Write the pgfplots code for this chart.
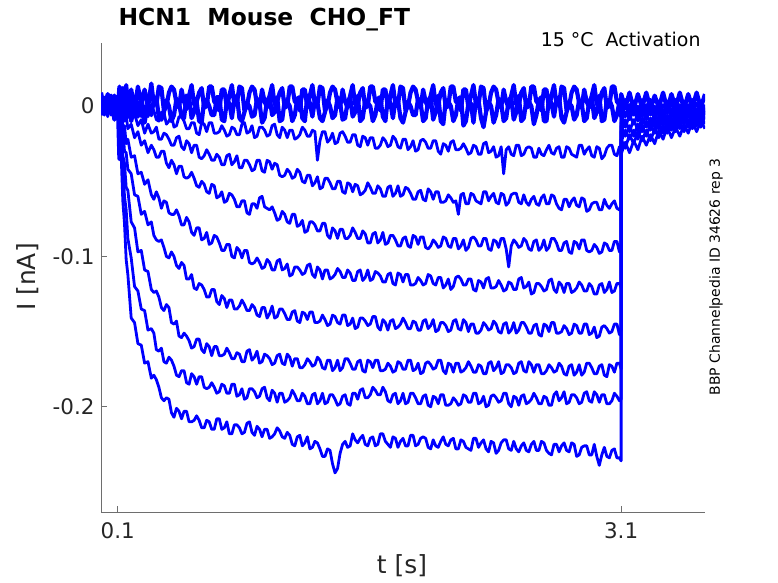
\documentclass[border=0pt]{standalone}
\usepackage{pgfplots}
\pgfplotsset{compat=1.18}
\usepackage{pgfplotstable}
\usepackage{fontspec}
\setmainfont{DejaVu Sans}
% currents in pA (axis labelled in nA)
\pgfplotstableread{
t a b c d e f g h z1 z2
0.00 3 -4 2 -6 5 -2 4 -3 9 -6
0.02 -5 4 -3 6 -4 3 -6 5 -2 4
0.04 4 -2 6 -3 2 -5 3 -7 8 -5
0.06 -3 6 -5 2 -6 4 -2 4 -1 7
0.08 5 -5 3 -4 4 -3 6 -2 7 -9
0.10 -2 3 -4 5 -3 6 -4 3 -3 4
0.11 3 -4 1 -5 1 -6 -2 -10 13 -35
0.12 -4 2 -5 -2 -13 -13 -23 -32 -1 7
0.13 5 -5 -1 -13 -15 -33 -38 -63 12 -9
0.14 -3 1 -10 -13 -30 -38 -60 -78 0 6
0.15 4 -6 -6 -25 -31 -54 -69 -102 14 -8
0.16 -2 -2 -15 -22 -42 -56 -88 -112 1 5
0.18 3 -10 -12 -34 -45 -77 -101 -141 11 -10
0.20 -5 -5 -21 -33 -59 -81 -120 -144 -2 4
0.22 2 -13 -17 -45 -60 -97 -123 -158 13 -7
0.24 -7 -9 -26 -44 -72 -96 -135 -159 2 7
0.26 0 -18 -23 -52 -70 -109 -136 -171 11 -11
0.28 -7 -12 -31 -49 -79 -110 -149 -170 -1 3
0.300 -1 -18 -26 -59 -77 -122 -148 -181 15 -6
0.315 -3 -17 -29 -62 -86 -124 -151 -179 1 4
0.330 -9 -14 -34 -57 -89 -123 -162 -182 1 6
0.345 -10 -22 -34 -61 -90 -127 -163 -187 13 -8
0.360 -4 -22 -30 -68 -89 -134 -161 -194 12 -9
0.375 -4 -18 -30 -63 -94 -136 -170 -196 -3 -4
0.390 -12 -19 -38 -64 -100 -132 -171 -194 0 4
0.405 -10 -22 -41 -71 -101 -134 -167 -195 9 0
0.420 -6 -26 -36 -72 -97 -144 -169 -204 13 -10
0.435 -14 -26 -39 -72 -100 -145 -173 -207 11 -6
0.450 -13 -21 -45 -69 -106 -143 -179 -201 2 5
0.465 -7 -20 -40 -73 -108 -153 -180 -203 -1 2
0.480 -7 -27 -40 -79 -104 -154 -176 -208 11 -7
0.495 -10 -29 -47 -79 -106 -151 -176 -203 3 -8
0.510 -15 -23 -48 -74 -115 -153 -184 -203 -2 7
0.525 -15 -25 -47 -77 -115 -156 -185 -210 7 6
0.540 -11 -31 -44 -84 -112 -161 -178 -210 14 -8
0.555 -11 -26 -48 -86 -121 -160 -180 -209 1 -4
0.570 -18 -26 -53 -81 -122 -155 -185 -206 3 3
0.585 -19 -34 -54 -81 -118 -155 -180 -209 9 -10
0.600 -11 -35 -50 -89 -119 -162 -180 -214 12 -11
0.615 -12 -33 -52 -88 -122 -164 -187 -214 -1 4
0.630 -17 -29 -57 -84 -127 -158 -188 -209 0 4
0.645 -11 -32 -58 -92 -127 -160 -187 -210 13 0
0.660 -11 -36 -52 -91 -122 -166 -184 -215 13 -6
0.675 -18 -36 -53 -86 -122 -160 -187 -215 3 -6
0.690 -18 -32 -61 -87 -130 -160 -191 -208 1 6
0.705 -17 -34 -60 -91 -132 -166 -190 -208 -3 6
0.720 -13 -39 -57 -96 -126 -166 -185 -215 11 -9
0.735 -16 -39 -64 -96 -128 -165 -186 -214 11 -10
0.750 -20 -33 -63 -92 -134 -161 -191 -210 -1 3
0.765 -19 -32 -58 -92 -129 -164 -191 -218 7 2
0.780 -14 -39 -59 -100 -129 -168 -185 -218 14 -8
0.795 -15 -37 -62 -101 -135 -168 -185 -212 1 4
0.810 -19 -33 -67 -94 -135 -164 -193 -212 2 7
0.825 -19 -41 -67 -96 -133 -165 -192 -214 13 -8
0.840 -12 -41 -63 -101 -129 -170 -188 -218 12 -10
0.855 -11 -36 -63 -96 -132 -170 -195 -217 -3 -4
0.870 -18 -36 -71 -96 -136 -163 -194 -211 0 2
0.885 -17 -39 -72 -104 -136 -162 -188 -210 9 0
0.900 -13 -43 -65 -105 -132 -169 -188 -217 13 -7
0.915 -21 -42 -65 -104 -134 -167 -190 -219 11 -6
0.930 -20 -36 -68 -101 -139 -163 -194 -213 1 5
0.945 -14 -36 -61 -104 -140 -171 -193 -215 -1 2
0.960 -14 -43 -60 -108 -134 -170 -188 -220 11 -11
0.975 -16 -44 -67 -107 -134 -165 -187 -215 3 -8
0.990 -20 -36 -68 -102 -141 -166 -194 -215 -1 4
1.005 -19 -37 -69 -104 -138 -168 -196 -221 7 6
1.020 -13 -42 -67 -109 -133 -172 -189 -220 14 -6
1.035 -12 -38 -71 -109 -141 -171 -191 -218 1 -4
1.050 -19 -39 -76 -103 -140 -166 -197 -214 3 6
1.065 -21 -46 -75 -102 -135 -165 -191 -216 9 -10
1.080 -14 -47 -70 -109 -135 -171 -191 -220 12 -9
1.095 -16 -46 -72 -108 -138 -172 -197 -221 -1 4
1.110 -21 -42 -77 -105 -142 -165 -196 -217 0 3
1.125 -16 -44 -78 -113 -142 -167 -194 -219 13 0
1.140 -16 -48 -72 -112 -137 -173 -189 -225 13 -10
1.155 -22 -47 -72 -107 -136 -168 -192 -226 3 -6
1.170 -21 -42 -80 -107 -143 -168 -196 -220 2 5
1.185 -19 -44 -79 -109 -144 -174 -196 -219 -3 6
1.200 -14 -50 -76 -112 -137 -174 -191 -226 11 -8
1.215 -16 -51 -84 -111 -138 -172 -193 -224 11 -10
1.230 -20 -46 -83 -106 -142 -168 -198 -220 -1 7
1.245 -20 -46 -77 -105 -137 -170 -198 -228 7 2
1.260 -16 -53 -77 -112 -137 -173 -192 -227 14 -7
1.275 -17 -51 -79 -114 -144 -172 -191 -223 1 4
1.290 -36 -47 -83 -107 -144 -167 -198 -224 1 2
1.305 -23 -55 -83 -109 -143 -169 -196 -228 13 -8
1.320 -17 -54 -78 -115 -139 -174 -191 -233 12 -10
1.335 -17 -48 -78 -109 -142 -175 -198 -233 -3 -4
1.350 -24 -48 -86 -109 -146 -169 -197 -228 0 4
1.365 -22 -51 -88 -115 -145 -169 -192 -229 9 0
1.380 -18 -55 -81 -114 -139 -176 -192 -238 13 -8
1.395 -25 -55 -83 -112 -140 -174 -195 -244 11 -6
1.410 -24 -50 -88 -108 -144 -169 -199 -241 2 6
1.425 -18 -50 -82 -110 -145 -176 -198 -231 -1 2
1.440 -17 -57 -82 -114 -139 -174 -193 -225 11 -9
1.455 -20 -58 -88 -114 -139 -168 -192 -223 3 -8
1.470 -24 -51 -88 -109 -146 -168 -198 -227 -1 3
1.485 -24 -52 -86 -111 -145 -171 -199 -226 7 6
1.500 -19 -57 -81 -116 -141 -175 -191 -218 14 -7
1.515 -19 -52 -84 -116 -148 -175 -191 -222 1 -4
1.530 -26 -53 -88 -110 -147 -170 -195 -224 1 7
1.545 -27 -59 -88 -109 -141 -169 -189 -221 9 -10
1.560 -20 -58 -83 -116 -141 -176 -188 -219 12 -8
1.575 -21 -56 -85 -114 -143 -177 -194 -225 -1 4
1.590 -26 -51 -91 -109 -146 -169 -194 -226 0 2
1.605 -21 -54 -91 -116 -145 -170 -192 -221 13 0
1.620 -21 -58 -85 -115 -140 -174 -187 -220 13 -10
1.635 -28 -58 -84 -110 -140 -169 -189 -226 3 -6
1.650 -28 -53 -91 -111 -147 -169 -192 -225 2 5
1.665 -26 -55 -89 -113 -149 -176 -192 -218 -3 6
1.680 -21 -60 -84 -117 -142 -176 -187 -218 11 -7
1.695 -23 -60 -92 -117 -144 -175 -190 -223 11 -10
1.710 -27 -54 -91 -112 -149 -171 -196 -225 -1 6
1.725 -26 -53 -86 -111 -143 -173 -197 -227 7 2
1.740 -20 -60 -86 -118 -142 -177 -192 -220 14 -8
1.755 -22 -58 -89 -119 -148 -176 -191 -221 1 4
1.770 -27 -53 -93 -111 -147 -170 -198 -227 1 4
1.785 -28 -60 -93 -112 -145 -171 -196 -223 13 -8
1.800 -22 -59 -88 -117 -141 -175 -191 -221 12 -11
1.815 -22 -54 -87 -112 -144 -175 -198 -226 -3 -4
1.830 -29 -55 -93 -112 -148 -169 -197 -226 0 3
1.845 -27 -58 -94 -119 -148 -169 -191 -219 9 0
1.860 -23 -62 -86 -119 -143 -176 -191 -219 13 -6
1.875 -30 -62 -87 -118 -144 -175 -194 -226 11 -6
1.890 -29 -57 -92 -114 -149 -171 -198 -225 3 5
1.905 -23 -56 -87 -116 -149 -178 -198 -221 -1 2
1.920 -22 -62 -87 -119 -143 -177 -193 -220 11 -10
1.935 -24 -63 -94 -118 -142 -171 -192 -221 3 -8
1.950 -28 -55 -95 -112 -148 -170 -199 -227 -1 4
1.965 -28 -57 -93 -113 -146 -172 -200 -228 7 6
1.980 -23 -62 -89 -118 -142 -175 -193 -222 14 -9
1.995 -23 -57 -91 -119 -150 -174 -194 -226 1 -4
2.010 -30 -57 -94 -114 -149 -169 -198 -227 1 7
2.025 -32 -64 -93 -114 -144 -169 -192 -223 9 -10
2.040 -25 -64 -87 -121 -144 -176 -192 -220 12 -12
2.055 -26 -63 -88 -119 -146 -178 -199 -225 -1 4
2.070 -30 -59 -93 -115 -150 -171 -199 -226 0 3
2.085 -24 -61 -94 -122 -149 -172 -198 -222 13 0
2.100 -23 -64 -88 -120 -143 -177 -194 -221 13 -10
2.115 -29 -63 -88 -114 -142 -171 -196 -228 3 -6
2.130 -29 -72 -95 -113 -148 -171 -199 -228 2 5
2.145 -28 -59 -93 -115 -149 -177 -198 -222 -3 6
2.160 -25 -58 -89 -119 -142 -176 -192 -223 11 -13
2.175 -28 -65 -96 -119 -144 -174 -193 -227 11 -10
2.190 -32 -65 -94 -115 -150 -170 -197 -228 -1 2
2.205 -31 -58 -88 -115 -145 -173 -197 -229 7 2
2.220 -26 -59 -87 -122 -145 -177 -191 -221 14 -11
2.235 -27 -63 -89 -123 -151 -177 -191 -221 1 4
2.250 -32 -64 -93 -116 -151 -172 -198 -227 1 4
2.265 -32 -65 -93 -117 -149 -173 -197 -224 13 -8
2.280 -25 -57 -88 -121 -144 -178 -193 -222 12 -14
2.295 -24 -57 -88 -115 -146 -178 -200 -228 -3 -4
2.310 -31 -63 -95 -114 -149 -171 -199 -230 0 3
2.325 -30 -60 -96 -121 -148 -170 -193 -223 9 0
2.340 -27 -58 -89 -121 -143 -176 -192 -224 13 -11
2.355 -34 -64 -90 -120 -145 -174 -194 -231 11 -6
2.370 -33 -65 -94 -116 -150 -170 -197 -229 2 5
2.385 -27 -58 -88 -119 -151 -178 -196 -224 -1 2
2.400 -45 -59 -88 -123 -145 -177 -191 -222 11 -10
2.415 -29 -66 -95 -122 -144 -172 -191 -222 3 -8
2.430 -27 -64 -107 -117 -151 -172 -198 -228 -1 4
2.445 -32 -59 -93 -118 -149 -174 -200 -229 7 6
2.460 -33 -58 -89 -122 -144 -178 -193 -223 14 -9
2.475 -26 -58 -91 -122 -151 -177 -194 -228 1 -4
2.490 -26 -64 -94 -115 -149 -171 -199 -230 1 7
2.505 -33 -65 -93 -114 -144 -170 -193 -226 9 -10
2.520 -32 -59 -88 -121 -144 -176 -192 -224 12 -8
2.535 -28 -64 -90 -120 -147 -177 -198 -229 -1 4
2.550 -27 -66 -95 -117 -151 -170 -197 -230 0 3
2.565 -28 -62 -96 -125 -151 -172 -195 -225 13 0
2.580 -34 -60 -90 -124 -146 -177 -191 -223 13 -12
2.595 -34 -65 -89 -118 -145 -172 -194 -229 3 -6
2.610 -28 -66 -96 -118 -152 -172 -198 -229 2 4
2.625 -32 -61 -94 -120 -153 -178 -198 -223 -3 6
2.640 -33 -59 -89 -123 -145 -178 -193 -224 11 -10
2.655 -29 -65 -96 -122 -146 -176 -194 -229 11 -10
2.670 -26 -65 -94 -116 -150 -172 -199 -231 -1 5
2.685 -31 -59 -88 -115 -144 -174 -199 -232 7 2
2.700 -32 -60 -88 -122 -144 -177 -192 -225 14 -7
2.715 -28 -65 -91 -124 -151 -176 -190 -225 1 4
2.730 -27 -68 -96 -117 -151 -171 -196 -230 1 6
2.745 -34 -69 -96 -119 -150 -173 -194 -226 13 -8
2.760 -34 -62 -91 -124 -146 -178 -190 -224 12 -11
2.775 -27 -62 -90 -118 -148 -179 -198 -229 -3 -4
2.790 -28 -67 -97 -118 -152 -173 -197 -230 0 2
2.805 -32 -63 -98 -124 -151 -172 -192 -224 9 0
2.820 -33 -61 -90 -123 -145 -179 -192 -225 13 -9
2.835 -34 -66 -91 -121 -146 -177 -194 -233 11 -6
2.850 -26 -67 -95 -117 -151 -172 -198 -232 2 4
2.865 -26 -61 -89 -119 -151 -179 -197 -227 -1 2
2.880 -32 -62 -89 -123 -145 -177 -191 -226 11 -10
2.895 -29 -70 -96 -123 -145 -171 -190 -226 3 -8
2.910 -27 -69 -97 -118 -152 -171 -196 -232 -1 3
2.925 -33 -65 -96 -120 -151 -174 -197 -232 7 6
2.940 -34 -64 -92 -125 -147 -178 -190 -225 14 -8
2.955 -27 -64 -94 -125 -154 -178 -192 -233 1 -4
2.970 -28 -69 -98 -119 -153 -173 -197 -239 1 7
2.985 -35 -69 -97 -118 -147 -172 -192 -232 9 -10
3.000 -33 -62 -91 -124 -146 -179 -192 -227 12 -9
3.015 -28 -66 -92 -122 -148 -180 -198 -233 -1 4
3.030 -26 -68 -96 -117 -151 -172 -198 -234 0 4
3.045 -26 -65 -96 -124 -150 -173 -196 -229 13 0
3.060 -32 -63 -90 -123 -145 -177 -191 -228 13 -10
3.075 -33 -68 -90 -118 -145 -171 -193 -234 3 -6
3.090 -27 -69 -97 -118 -152 -171 -196 -234 1 3
3.100 -31 -66 -94 -121 -149 -175 -195 -236 5 -2
3.100 0 -11 -7 -17 -13 -24 -22 -32 8 -7
3.125 -7 -4 -14 -9 -20 -16 -28 -24 -1 4
3.150 1 -9 -6 -17 -13 -22 -19 -31 9 -8
3.175 -6 -2 -12 -9 -20 -16 -25 -23 -2 3
3.200 0 -10 -5 -16 -12 -22 -17 -29 8 -9
3.225 -7 -3 -12 -8 -17 -13 -23 -20 -1 4
3.250 1 -9 -5 -14 -10 -20 -16 -26 9 -7
3.275 -6 -1 -12 -8 -16 -12 -23 -19 -2 4
3.300 0 -9 -5 -14 -9 -18 -15 -25 7 -8
3.325 -6 -2 -10 -7 -15 -11 -21 -16 -1 3
3.350 1 -8 -3 -13 -8 -18 -13 -22 9 -8
3.375 -5 0 -10 -6 -15 -10 -18 -14 -2 3
3.400 2 -7 -3 -12 -8 -16 -11 -21 8 -7
3.425 -5 -1 -9 -4 -14 -8 -17 -14 -1 4
3.450 1 -8 -2 -11 -7 -15 -11 -20 9 -8
3.475 -6 -1 -8 -4 -12 -7 -17 -12 -2 3
3.500 1 -7 -1 -11 -5 -14 -10 -18 8 -7
3.525 -5 1 -8 -4 -11 -7 -15 -10 -1 4
3.550 2 -6 -2 -10 -4 -13 -7 -17 9 -8
3.575 -5 1 -9 -3 -11 -6 -14 -10 -1 3
3.600 1 -6 -1 -9 -3 -12 -6 -15 8 -6
}\traces

\definecolor{axgray}{RGB}{110,110,110}
\definecolor{txt}{RGB}{38,38,38}

\begin{document}
\begin{tikzpicture}
\useasboundingbox (0,0) rectangle (778bp,583bp);
\begin{axis}[
  at={(101bp,71bp)}, anchor=south west,
  scale only axis, width=604bp, height=469bp,
  xmin=0, xmax=3.6, ymin=-270, ymax=42,
  axis lines*=left,
  axis line style={axgray, line width=0.6bp},
  xtick={0.1,3.1}, xticklabels={0.1,3.1},
  ytick={-200,-100,0}, yticklabels={-0.2,-0.1,{0\hspace{22bp}}},
  tick align=inside, major tick length=6bp,
  tick style={axgray, line width=0.6bp},
  ticklabel style={font=\fontsize{21.5}{21.5}\selectfont, text=txt},
  xticklabel style={yshift=-7bp},
  yticklabel style={xshift=-3bp},
  trace/.style={blue, line width=2.8bp, no marks, line join=round},
]
\addplot[trace, line width=4.2bp] table[x=t,y=z1]{\traces};
\addplot[trace, line width=4.2bp] table[x=t,y=z2]{\traces};
\addplot[trace] table[x=t,y=a]{\traces};
\addplot[trace] table[x=t,y=b]{\traces};
\addplot[trace] table[x=t,y=c]{\traces};
\addplot[trace] table[x=t,y=d]{\traces};
\addplot[trace] table[x=t,y=e]{\traces};
\addplot[trace] table[x=t,y=f]{\traces};
\addplot[trace] table[x=t,y=g]{\traces};
\addplot[trace] table[x=t,y=h]{\traces};
\end{axis}
\node[anchor=base west, font=\bfseries\fontsize{23.5}{23.5}\selectfont, text=black] at (115bp,557bp) {HCN1\ \ Mouse\ \ CHO\_FT};
\node[anchor=base east, font=\fontsize{19}{19}\selectfont, text=black] at (704bp,536bp) {15 °C\ \ Activation};
\node[rotate=90, font=\fontsize{14}{14}\selectfont, text=black] at (716bp,306bp) {BBP Channelpedia ID 34626 rep 3};
\node[rotate=90, font=\fontsize{25}{25}\selectfont, text=txt] at (28bp,306bp) {I [nA]};
\node[font=\fontsize{25}{25}\selectfont, text=txt] at (402bp,17bp) {t [s]};
\end{tikzpicture}
\end{document}
